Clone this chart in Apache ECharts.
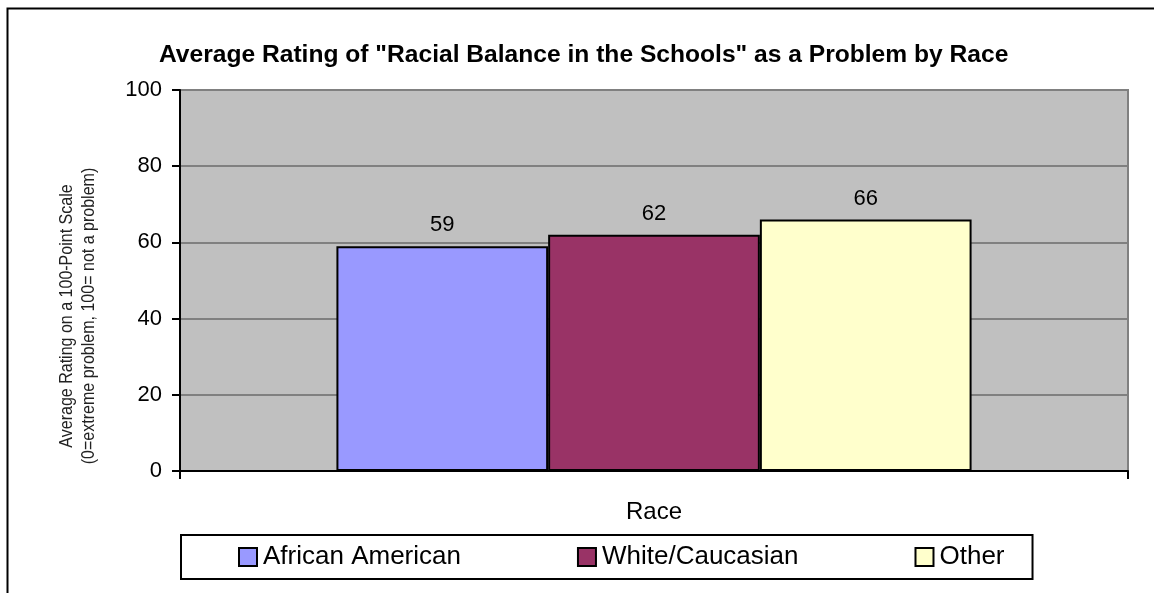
<!DOCTYPE html>
<html>
<head>
<meta charset="utf-8">
<script src="https://cdn.jsdelivr.net/npm/echarts@6/dist/echarts.min.js"></script>
<style>
  html, body { margin: 0; padding: 0; background: #fff; }
  #chart { width: 1154px; height: 593px; }
</style>
</head>
<body>
<div id="chart"></div>
<script>
// data
const chartTitle = 'Average Rating of "Racial Balance in the Schools" as a Problem by Race';
const categories = [''];
const seriesNames = ['African American', 'White/Caucasian', 'Other'];
const africanAmerican = [59];
const whiteCaucasian = [62];
const other = [66];
const seriesValues = [africanAmerican, whiteCaucasian, other];
const yTicks = [0, 20, 40, 60, 80, 100];
const barColors = ['#9999ff', '#993366', '#ffffcc'];

const font = 'Liberation Sans, Arial, sans-serif';

const chart = echarts.init(document.getElementById('chart'));

chart.setOption({
    animation: false,
    backgroundColor: '#ffffff',
    title: {
        text: chartTitle,
        left: 154,
        top: 38,
        textStyle: { fontFamily: font, fontSize: 24.6, fontWeight: 'bold', color: '#000' }
    },
    grid: {
        left: 180, right: 26, top: 90, bottom: 122,
        show: true,
        backgroundColor: '#c0c0c0',
        borderColor: '#808080',
        borderWidth: 2
    },
    legend: {
        data: seriesNames,
        left: 181,
        top: 535,
        orient: 'horizontal',
        padding: [9, 28, 9, 57],
        itemGap: 116,
        itemWidth: 18,
        itemHeight: 18,
        icon: 'rect',
        borderColor: '#000',
        borderWidth: 2,
        selectedMode: false,
        textStyle: { fontFamily: font, fontSize: 26, color: '#000', padding: [0, 0, 0, 1] }
    },
    xAxis: {
        type: 'category',
        data: categories,
        name: 'Race',
        nameLocation: 'middle',
        nameGap: 29,
        nameTextStyle: { fontFamily: font, fontSize: 24, color: '#000' },
        axisLine: { lineStyle: { color: '#000', width: 2 } },
        axisTick: { show: true, length: 8, lineStyle: { color: '#000', width: 2 } },
        axisLabel: { show: false }
    },
    yAxis: {
        type: 'value',
        min: 0,
        max: 100,
        interval: 20,
        axisLine: { show: true, lineStyle: { color: '#000', width: 2 } },
        axisTick: { show: true, length: 8, lineStyle: { color: '#000', width: 2 } },
        axisLabel: {
            margin: 18,
            fontFamily: font, fontSize: 22, color: '#000',
            formatter: v => yTicks.includes(v) ? String(v) : ''
        },
        splitLine: { show: true, lineStyle: { color: '#808080', width: 2 } }
    },
    graphic: [
        {
            type: 'rect',
            left: 5, top: 6,
            shape: { width: 1200, height: 640 },
            style: { fill: 'none', stroke: '#000', lineWidth: 2 },
            silent: true,
            z: 100
        },
        {
            // narrow look of the original: squeeze the text along its own direction
            type: 'text',
            x: 78, y: 316,
            rotation: Math.PI / 2,
            scaleX: 0.89,
            style: {
                text: 'Average Rating on a 100-Point Scale\n(0=extreme problem, 100= not a problem)',
                font: '18px ' + font,
                fill: '#222',
                align: 'center',
                verticalAlign: 'middle',
                lineHeight: 22
            }
        }
    ],
    series: seriesNames.map((name, i) => ({
        name: name,
        type: 'bar',
        data: seriesValues[i],
        barGap: '0%',
        barCategoryGap: '33%',
        itemStyle: { color: barColors[i], borderColor: '#000', borderWidth: 2 },
        label: {
            show: true,
            position: 'top',
            distance: 10,
            fontFamily: font, fontSize: 22, color: '#000'
        }
    }))
});
</script>
</body>
</html>
